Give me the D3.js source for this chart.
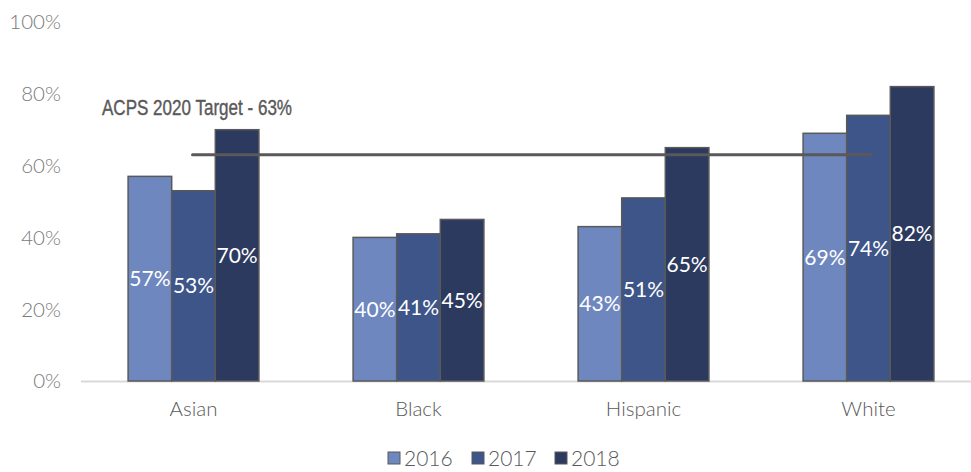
<!DOCTYPE html>
<html>
<head>
<meta charset="utf-8">
<script src="https://cdn.jsdelivr.net/npm/d3@7"></script>
<style>
  html, body { margin: 0; padding: 0; background: #fff; }
  svg { display: block; }
</style>
</head>
<body>
<svg id="chart" width="971" height="472"></svg>
<script>
// Chart data
const categories = ["Asian", "Black", "Hispanic", "White"];
const years = ["2016", "2017", "2018"];
const values2016 = [57, 40, 43, 69];
const values2017 = [53, 41, 51, 74];
const values2018 = [70, 45, 65, 82];
const yTicks = [0, 20, 40, 60, 80, 100];
const targetValue = 63;
const targetLabel = "ACPS 2020 Target - 63%";

const series = [values2016, values2017, values2018];
const colors = ["#6f87bf", "#3d5589", "#2c3a5f"];

const svg = d3.select("#chart");
const margin = { left: 81, right: -10, top: 22, bottom: 91 };
const W = 971, H = 472;

const x = d3.scaleBand().domain(categories).range([margin.left, W - margin.right]).paddingInner(0).paddingOuter(0);
const inner = d3.scaleBand().domain(years).range([0, x.bandwidth()]).paddingInner(0).paddingOuter(1.08);
const y = d3.scaleLinear().domain([0, 100]).range([H - margin.bottom, margin.top]);

// Y tick labels
svg.append("g").selectAll("text").data(yTicks).join("text")
  .attr("x", 61).attr("y", d => y(d))
  .attr("dy", "0.36em")
  .attr("text-anchor", "end")
  .attr("font-family", "Lato, sans-serif").attr("font-weight", 300)
  .attr("font-size", 20.5).attr("fill", "#7a7a7a")
  .text(d => d + "%");

// Baseline
svg.append("line")
  .attr("x1", margin.left).attr("x2", W)
  .attr("y1", y(0) + 0.5).attr("y2", y(0) + 0.5)
  .attr("stroke", "#d9d9d9").attr("stroke-width", 2);

// Bars
const groups = svg.append("g").selectAll("g").data(categories).join("g")
  .attr("transform", d => `translate(${x(d)},0)`);

groups.each(function(cat, ci) {
  const g = d3.select(this);
  years.forEach((yr, si) => {
    const v = series[si][ci];
    g.append("rect")
      .attr("x", inner(yr)).attr("width", inner.bandwidth())
      .attr("y", y(v)).attr("height", y(0) - y(v))
      .attr("fill", colors[si]).attr("stroke", "#595959").attr("stroke-width", 1.5);
  });
});

// Target line
svg.append("line")
  .attr("x1", x("Asian") + x.bandwidth() / 2 - 1)
  .attr("x2", x("White") + x.bandwidth() / 2 + 3)
  .attr("y1", y(targetValue)).attr("y2", y(targetValue))
  .attr("stroke", "#595959").attr("stroke-width", 3).attr("stroke-linecap", "round");

svg.append("text")
  .attr("x", 102).attr("y", 115)
  .attr("font-family", "'Liberation Sans Narrow', 'Arial Narrow', sans-serif")
  .attr("font-size", 22).attr("fill", "#595959")
  .attr("stroke", "#595959").attr("stroke-width", 0.4)
  .attr("textLength", 190).attr("lengthAdjust", "spacingAndGlyphs")
  .text(targetLabel);

// Value labels
groups.each(function(cat, ci) {
  const g = d3.select(this);
  years.forEach((yr, si) => {
    const v = series[si][ci];
    g.append("text")
      .attr("x", inner(yr) + inner.bandwidth() / 2)
      .attr("y", (y(v) + y(0)) / 2)
      .attr("dy", "0.36em")
      .attr("text-anchor", "middle")
      .attr("font-family", "Lato, sans-serif")
      .attr("font-size", 21).attr("fill", "#ffffff")
      .text(v + "%");
  });
});

// Category labels
svg.append("g").selectAll("text").data(categories).join("text")
  .attr("x", d => x(d) + x.bandwidth() / 2)
  .attr("y", 409).attr("dy", "0.36em")
  .attr("text-anchor", "middle")
  .attr("font-family", "Lato, sans-serif").attr("font-weight", 300)
  .attr("font-size", 20.5).attr("fill", "#595959")
  .text(d => d);

// Legend
const legendX = [388, 472, 555];
const legend = svg.append("g").selectAll("g").data(years).join("g")
  .attr("transform", (d, i) => `translate(${legendX[i]},458)`);
legend.append("rect")
  .attr("x", 0).attr("y", -6).attr("width", 12).attr("height", 12)
  .attr("fill", (d, i) => colors[i]).attr("stroke", "#595959").attr("stroke-width", 1);
legend.append("text")
  .attr("x", 16).attr("y", 0).attr("dy", "0.36em")
  .attr("font-family", "Lato, sans-serif").attr("font-weight", 300)
  .attr("font-size", 21).attr("fill", "#595959")
  .text(d => d);
</script>
</body>
</html>
